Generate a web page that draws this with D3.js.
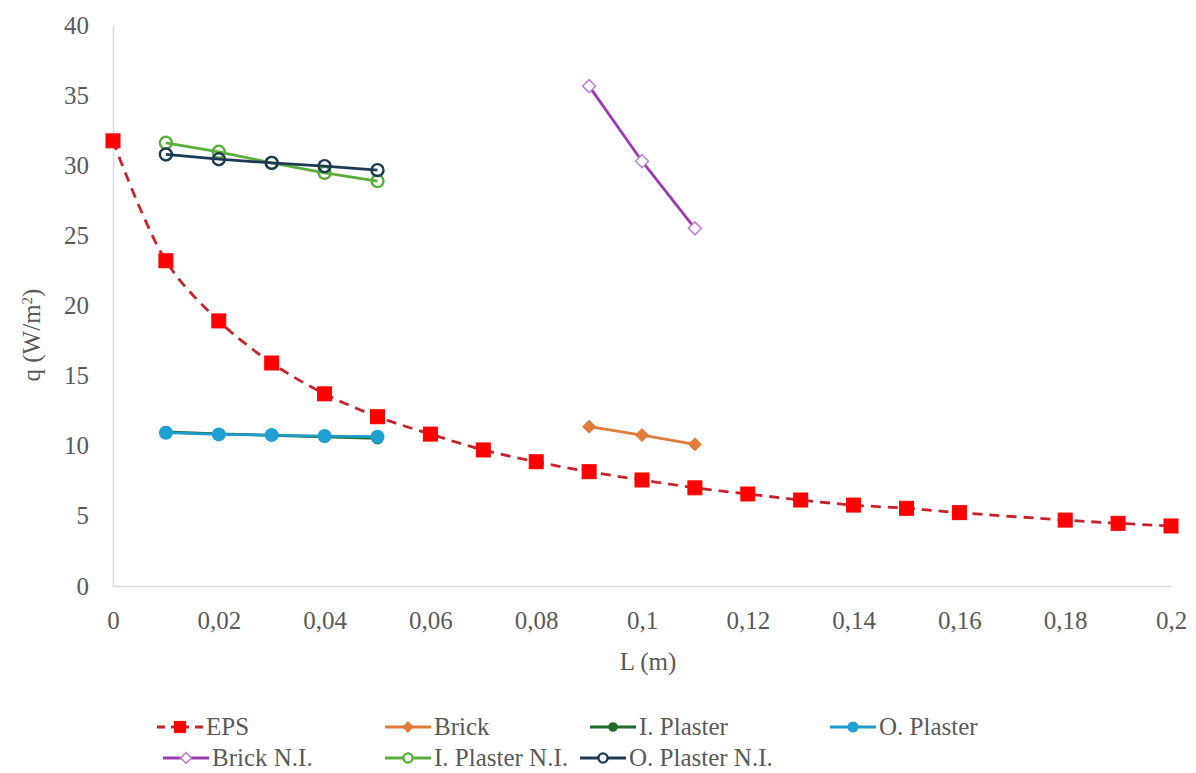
<!DOCTYPE html>
<html>
<head>
<meta charset="utf-8">
<script src="https://cdn.jsdelivr.net/npm/d3@7"></script>
<style>
  html, body { margin: 0; padding: 0; background: #fff; font-family: 'Liberation Serif', serif; }
  svg { display: block; }
</style>
</head>
<body>
<svg id="chart" width="1196" height="773" font-family="Liberation Serif"></svg>
<script>
// ---- data ----
const epsL = [0, 0.01, 0.02, 0.03, 0.04, 0.05, 0.06, 0.07, 0.08, 0.09, 0.10, 0.11, 0.12, 0.13, 0.14, 0.15, 0.16, 0.18, 0.19, 0.20];
const epsQ = [31.74, 23.19, 18.9, 15.9, 13.7, 12.07, 10.83, 9.7, 8.86, 8.15, 7.56, 7.0, 6.56, 6.13, 5.77, 5.54, 5.23, 4.70, 4.47, 4.28];

const brickL = [0.09, 0.10, 0.11];
const brickQ = [11.36, 10.76, 10.1];

const plasterL = [0.01, 0.02, 0.03, 0.04, 0.05];
const iPlasterQ = [10.98, 10.84, 10.74, 10.63, 10.52];
const oPlasterQ = [10.93, 10.81, 10.76, 10.69, 10.64];

const brickNIQ = [35.64, 30.29, 25.5];
const iPlasterNIQ = [31.6, 30.96, 30.17, 29.46, 28.87];
const oPlasterNIQ = [30.77, 30.43, 30.17, 29.94, 29.65];

const xTicks = [0, 0.02, 0.04, 0.06, 0.08, 0.1, 0.12, 0.14, 0.16, 0.18, 0.2];
const yTicks = [0, 5, 10, 15, 20, 25, 30, 35, 40];

const seriesNames = ["EPS", "Brick", "I. Plaster", "O. Plaster", "Brick N.I.", "I. Plaster N.I.", "O. Plaster N.I."];

// ---- styles ----
const series = [
  { name: seriesNames[0], xs: epsL, ys: epsQ, line: "#c8232b", marker: "square", fill: "#ff0000", mstroke: "#ff0000", dash: "10,7", smooth: true, size: 14 },
  { name: seriesNames[1], xs: brickL, ys: brickQ, line: "#e07b39", marker: "diamond", fill: "#e07b39", mstroke: "#e07b39", size: 11 },
  { name: seriesNames[2], xs: plasterL, ys: iPlasterQ, line: "#1f6b2a", marker: "circle", fill: "#1f6b2a", mstroke: "#1f6b2a", size: 12 },
  { name: seriesNames[3], xs: plasterL, ys: oPlasterQ, line: "#1f9bc7", marker: "circle", fill: "#1fa0d2", mstroke: "#1fa0d2", size: 14 },
  { name: seriesNames[4], xs: brickL, ys: brickNIQ, line: "#9a3cb0", marker: "diamond", fill: "#fff", mstroke: "#c07fd3", size: 11, hollow: true },
  { name: seriesNames[5], xs: plasterL, ys: iPlasterNIQ, line: "#5aae3c", marker: "circle", fill: "none", mstroke: "#5aae3c", size: 14, hollow: true },
  { name: seriesNames[6], xs: plasterL, ys: oPlasterNIQ, line: "#1c3a52", marker: "circle", fill: "none", mstroke: "#1c3a52", size: 14, hollow: true }
];

const svg = d3.select("#chart");
const x = d3.scaleLinear().domain([0, 0.2]).range([113, 1171]);
const y = d3.scaleLinear().domain([0, 40]).range([586, 25]);
const fmt = d => String(+d.toFixed(2)).replace(".", ",");
const FS = "25px";
const FF = "'Liberation Serif', 'Times New Roman', 'DejaVu Serif', serif";

// axes
const gx = svg.append("g").attr("transform", `translate(0,${y(0)})`)
  .call(d3.axisBottom(x).tickValues(xTicks).tickFormat(fmt).tickSize(0).tickPadding(25));
const gy = svg.append("g").attr("transform", `translate(${x(0)},0)`)
  .call(d3.axisLeft(y).tickValues(yTicks).tickFormat(d3.format("d")).tickSize(0).tickPadding(24));
[gx, gy].forEach(g => {
  g.attr("font-family", FF).attr("font-size", FS);
  g.select(".domain").attr("stroke", "#d9d9d9").attr("stroke-width", 1.5);
  g.selectAll("text").attr("fill", "#595959");
});

// axis titles
svg.append("text").attr("x", 648).attr("y", 670).attr("text-anchor", "middle")
  .attr("font-size", FS).attr("fill", "#595959").text("L  (m)");
const yt = svg.append("text").attr("transform", "translate(40,335) rotate(-90)").attr("text-anchor", "middle")
  .attr("font-size", FS).attr("fill", "#595959");
yt.append("tspan").text("q  (W/m");
yt.append("tspan").attr("baseline-shift", "super").attr("font-size", "15px").text("2");
yt.append("tspan").text(")");

function drawMarker(g, type, cx, cy, s, fill, stroke, hollow) {
  if (type === "square") {
    g.append("rect").attr("x", cx - s / 2).attr("y", cy - s / 2).attr("width", s).attr("height", s)
      .attr("fill", fill).attr("stroke", stroke).attr("stroke-width", 1);
  } else if (type === "diamond") {
    const r = s / 2 + 1;
    g.append("path").attr("d", `M${cx},${cy - r}L${cx + r},${cy}L${cx},${cy + r}L${cx - r},${cy}Z`)
      .attr("fill", fill).attr("stroke", stroke).attr("stroke-width", hollow ? 1.5 : 1);
  } else {
    g.append("circle").attr("cx", cx).attr("cy", cy).attr("r", hollow ? s / 2 - 1 : s / 2)
      .attr("fill", fill).attr("stroke", stroke).attr("stroke-width", hollow ? 2.4 : 0);
  }
}

// draw series (O.Plaster above I.Plaster, navy above green)
const drawOrder = [1, 2, 3, 4, 5, 6, 0];
drawOrder.forEach(i => {
  const s = series[i];
  const pts = s.xs.map((v, k) => [x(v), y(s.ys[k])]);
  const line = d3.line().curve(s.smooth ? d3.curveCatmullRom.alpha(0.5) : d3.curveLinear);
  const g = svg.append("g");
  g.append("path").attr("d", line(pts)).attr("fill", "none").attr("stroke", s.line)
    .attr("stroke-width", 2.8).attr("stroke-dasharray", s.dash || null);
  pts.forEach(p => drawMarker(g, s.marker, p[0], p[1], s.size, s.fill, s.mstroke, s.hollow));
});

// legend
const legendPos = [
  [157, 727], [385, 727], [590, 727], [830, 727],
  [163, 758], [385, 758], [580, 758]
];
series.forEach((s, i) => {
  const [lx, ly] = legendPos[i];
  const g = svg.append("g");
  g.append("line").attr("x1", lx).attr("x2", lx + 46).attr("y1", ly).attr("y2", ly)
    .attr("stroke", s.line).attr("stroke-width", 2.8).attr("stroke-dasharray", s.dash ? "8,6,18,6,8" : null);
  drawMarker(g, s.marker, lx + 23, ly, s.size * 0.8, s.fill === "none" ? "#fff" : s.fill, s.mstroke, s.hollow);
  g.append("text").attr("x", lx + 49).attr("y", ly + 8).attr("font-size", FS).attr("fill", "#595959").text(s.name);
});

svg.selectAll("text").attr("font-family", FF).style("font-family", FF);
</script>
</body>
</html>
